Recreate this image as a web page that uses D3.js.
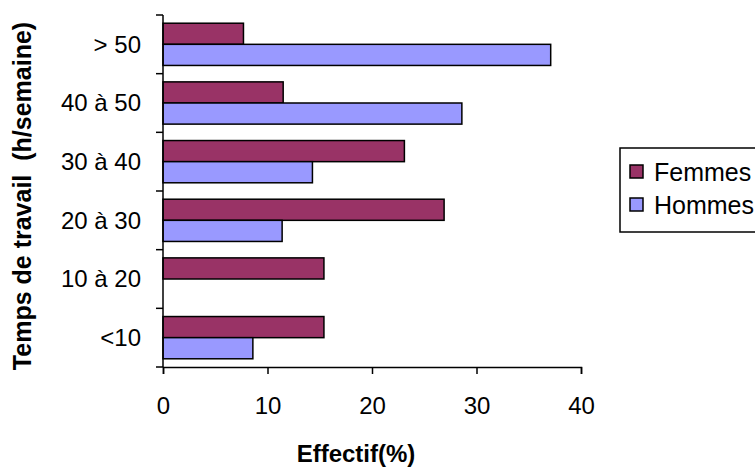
<!DOCTYPE html>
<html>
<head>
<meta charset="utf-8">
<script src="https://cdn.jsdelivr.net/npm/d3@7/dist/d3.min.js"></script>
<style>
  html, body { margin: 0; padding: 0; background: #fff; }
  svg { display: block; font-family: "Liberation Sans", Arial, sans-serif; }
  text { white-space: pre; }
</style>
</head>
<body>
<svg id="chart" width="755" height="469"></svg>
<script>
// Weekly working hours, share of respondents by sex (%)
const categories = ["> 50", "40 à 50", "30 à 40", "20 à 30", "10 à 20", "<10"];
const series = ["Femmes", "Hommes"];
const femmes = [7.7, 11.5, 23.1, 26.9, 15.4, 15.4];
const hommes = [37.1, 28.6, 14.3, 11.4, 0, 8.6];
const xTicks = [0, 10, 20, 30, 40];
const colors = ["#993366", "#9999FF"];

const FONT = 24;
const svg = d3.select("#chart");
const margin = { left: 163, right: 174, top: 15, bottom: 102 };
const W = 755, H = 469;

const x = d3.scaleLinear().domain([0, 40]).range([margin.left, W - margin.right]);
const y = d3.scaleBand().domain(categories).range([margin.top, H - margin.bottom])
  .paddingInner(0.28).paddingOuter(0.14);
const ySub = d3.scaleBand().domain(series).range([0, y.bandwidth()]);
const color = d3.scaleOrdinal().domain(series).range(colors);

const rows = categories.map((c, i) => ({ cat: c, values: [
  { key: "Femmes", v: femmes[i] },
  { key: "Hommes", v: hommes[i] }
]}));

// Bars
const g = svg.append("g");
g.selectAll("g.row").data(rows).join("g")
  .attr("class", "row")
  .attr("transform", d => `translate(0,${y(d.cat)})`)
  .selectAll("rect").data(d => d.values.filter(e => e.v > 0)).join("rect")
  .attr("x", x(0))
  .attr("y", d => ySub(d.key))
  .attr("width", d => x(d.v) - x(0))
  .attr("height", ySub.bandwidth())
  .attr("fill", d => color(d.key))
  .attr("stroke", "#000")
  .attr("stroke-width", 1.5);

// Category axis: ticks between bands
const yAxisG = svg.append("g");
const step = y.step();
const boundaries = d3.range(categories.length + 1).map(i => margin.top + i * step);
yAxisG.append("line")
  .attr("x1", x(0)).attr("x2", x(0))
  .attr("y1", margin.top).attr("y2", H - margin.bottom)
  .attr("stroke", "#000").attr("stroke-width", 1.5);
yAxisG.selectAll("line.tick").data(boundaries).join("line")
  .attr("class", "tick")
  .attr("x1", x(0) - 7).attr("x2", x(0))
  .attr("y1", d => d).attr("y2", d => d)
  .attr("stroke", "#000").attr("stroke-width", 1.5);
yAxisG.selectAll("text").data(categories).join("text")
  .attr("x", x(0) - 22)
  .attr("y", d => y(d) + y.bandwidth() / 2)
  .attr("dy", "0.35em")
  .attr("text-anchor", "end")
  .attr("font-size", FONT)
  .text(d => d);

// Value axis
const xAxis = d3.axisBottom(x).tickValues(xTicks).tickSize(7).tickPadding(23).tickFormat(d3.format("d"));
const xAxisG = svg.append("g")
  .attr("transform", `translate(0,${H - margin.bottom})`)
  .call(xAxis);
xAxisG.select(".domain").attr("stroke-width", 1.5);
xAxisG.selectAll(".tick line").attr("stroke-width", 1.5);
xAxisG.selectAll(".tick text").attr("font-size", FONT).attr("font-family", "Liberation Sans, Arial, sans-serif").attr("fill", "#000");

// Axis titles
svg.append("text")
  .attr("x", 356).attr("y", 462)
  .attr("text-anchor", "middle")
  .attr("font-size", FONT).attr("font-weight", "bold")
  .text("Effectif(%)");
svg.append("text")
  .attr("transform", "translate(31,196) rotate(-90)")
  .attr("text-anchor", "middle")
  .attr("font-size", 25).attr("font-weight", "bold")
  .text("Temps de travail  (h/semaine)");

// Legend
const lg = svg.append("g");
lg.append("rect")
  .attr("x", 620).attr("y", 148).attr("width", 150).attr("height", 84)
  .attr("fill", "#fff").attr("stroke", "#000").attr("stroke-width", 1.5);
series.forEach((s, i) => {
  const ly = 165 + i * 33;
  lg.append("rect")
    .attr("x", 630).attr("y", ly).attr("width", 13).attr("height", 13)
    .attr("fill", color(s)).attr("stroke", "#000").attr("stroke-width", 1.5);
  lg.append("text")
    .attr("x", 654).attr("y", ly + 7).attr("dy", "0.35em")
    .attr("font-size", 25)
    .text(s);
});
</script>
</body>
</html>
